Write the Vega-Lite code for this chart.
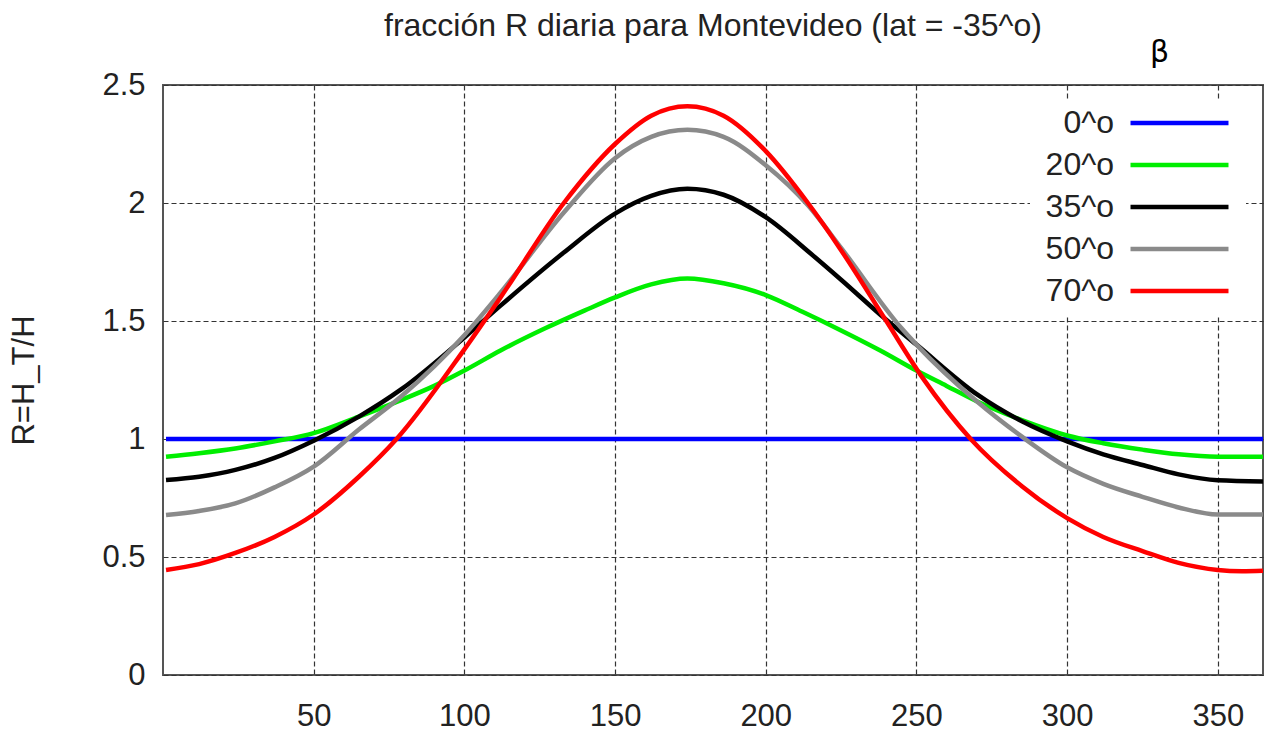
{
  "$schema": "https://vega.github.io/schema/vega-lite/v6.json",
  "width": 1100,
  "height": 590,
  "autosize": {"type": "none"},
  "padding": {"left": 163, "top": 85, "right": 1, "bottom": 56},
  "background": "white",
  "title": {
    "text": "fracción R diaria para Montevideo (lat = -35^o)",
    "frame": "group",
    "anchor": "middle",
    "offset": -31,
    "baseline": "alphabetic",
    "font": "Liberation Sans",
    "fontSize": 32,
    "fontWeight": "normal",
    "color": "#222"
  },
  "config": {
    "view": {"stroke": "#555", "strokeWidth": 2},
    "axis": {
      "labelFont": "Liberation Sans",
      "labelColor": "#222",
      "titleFont": "Liberation Sans",
      "titleColor": "#222",
      "titleFontWeight": "normal"
    }
  },
  "data": {
    "values": [
      {"d": 1, "R": 1.0, "beta": "0^o"},
      {"d": 365, "R": 1.0, "beta": "0^o"},

      {"d": 1, "R": 0.925, "beta": "20^o"},
      {"d": 12, "R": 0.94, "beta": "20^o"},
      {"d": 24, "R": 0.96, "beta": "20^o"},
      {"d": 37, "R": 0.99, "beta": "20^o"},
      {"d": 50, "R": 1.025, "beta": "20^o"},
      {"d": 65, "R": 1.095, "beta": "20^o"},
      {"d": 79, "R": 1.165, "beta": "20^o"},
      {"d": 90, "R": 1.225, "beta": "20^o"},
      {"d": 100, "R": 1.29, "beta": "20^o"},
      {"d": 112, "R": 1.375, "beta": "20^o"},
      {"d": 127, "R": 1.47, "beta": "20^o"},
      {"d": 140, "R": 1.545, "beta": "20^o"},
      {"d": 150, "R": 1.6, "beta": "20^o"},
      {"d": 162, "R": 1.655, "beta": "20^o"},
      {"d": 174, "R": 1.68, "beta": "20^o"},
      {"d": 186, "R": 1.66, "beta": "20^o"},
      {"d": 200, "R": 1.61, "beta": "20^o"},
      {"d": 212, "R": 1.54, "beta": "20^o"},
      {"d": 225, "R": 1.46, "beta": "20^o"},
      {"d": 238, "R": 1.375, "beta": "20^o"},
      {"d": 250, "R": 1.29, "beta": "20^o"},
      {"d": 260, "R": 1.225, "beta": "20^o"},
      {"d": 270, "R": 1.16, "beta": "20^o"},
      {"d": 285, "R": 1.08, "beta": "20^o"},
      {"d": 300, "R": 1.015, "beta": "20^o"},
      {"d": 312, "R": 0.982, "beta": "20^o"},
      {"d": 325, "R": 0.955, "beta": "20^o"},
      {"d": 337, "R": 0.935, "beta": "20^o"},
      {"d": 350, "R": 0.925, "beta": "20^o"},
      {"d": 365, "R": 0.925, "beta": "20^o"},

      {"d": 1, "R": 0.826, "beta": "35^o"},
      {"d": 12, "R": 0.84, "beta": "35^o"},
      {"d": 24, "R": 0.869, "beta": "35^o"},
      {"d": 37, "R": 0.92, "beta": "35^o"},
      {"d": 50, "R": 0.993, "beta": "35^o"},
      {"d": 65, "R": 1.095, "beta": "35^o"},
      {"d": 79, "R": 1.21, "beta": "35^o"},
      {"d": 100, "R": 1.43, "beta": "35^o"},
      {"d": 112, "R": 1.565, "beta": "35^o"},
      {"d": 133, "R": 1.79, "beta": "35^o"},
      {"d": 150, "R": 1.955, "beta": "35^o"},
      {"d": 162, "R": 2.03, "beta": "35^o"},
      {"d": 174, "R": 2.06, "beta": "35^o"},
      {"d": 186, "R": 2.035, "beta": "35^o"},
      {"d": 200, "R": 1.94, "beta": "35^o"},
      {"d": 215, "R": 1.785, "beta": "35^o"},
      {"d": 225, "R": 1.675, "beta": "35^o"},
      {"d": 240, "R": 1.505, "beta": "35^o"},
      {"d": 250, "R": 1.4, "beta": "35^o"},
      {"d": 270, "R": 1.19, "beta": "35^o"},
      {"d": 285, "R": 1.075, "beta": "35^o"},
      {"d": 300, "R": 0.99, "beta": "35^o"},
      {"d": 312, "R": 0.935, "beta": "35^o"},
      {"d": 325, "R": 0.89, "beta": "35^o"},
      {"d": 337, "R": 0.85, "beta": "35^o"},
      {"d": 350, "R": 0.825, "beta": "35^o"},
      {"d": 365, "R": 0.82, "beta": "35^o"},

      {"d": 1, "R": 0.678, "beta": "50^o"},
      {"d": 12, "R": 0.695, "beta": "50^o"},
      {"d": 24, "R": 0.727, "beta": "50^o"},
      {"d": 37, "R": 0.795, "beta": "50^o"},
      {"d": 50, "R": 0.883, "beta": "50^o"},
      {"d": 65, "R": 1.04, "beta": "50^o"},
      {"d": 79, "R": 1.18, "beta": "50^o"},
      {"d": 100, "R": 1.44, "beta": "50^o"},
      {"d": 112, "R": 1.62, "beta": "50^o"},
      {"d": 133, "R": 1.96, "beta": "50^o"},
      {"d": 150, "R": 2.19, "beta": "50^o"},
      {"d": 162, "R": 2.28, "beta": "50^o"},
      {"d": 174, "R": 2.31, "beta": "50^o"},
      {"d": 186, "R": 2.28, "beta": "50^o"},
      {"d": 200, "R": 2.16, "beta": "50^o"},
      {"d": 214, "R": 1.99, "beta": "50^o"},
      {"d": 225, "R": 1.81, "beta": "50^o"},
      {"d": 245, "R": 1.47, "beta": "50^o"},
      {"d": 250, "R": 1.4, "beta": "50^o"},
      {"d": 270, "R": 1.16, "beta": "50^o"},
      {"d": 285, "R": 1.01, "beta": "50^o"},
      {"d": 300, "R": 0.88, "beta": "50^o"},
      {"d": 312, "R": 0.81, "beta": "50^o"},
      {"d": 325, "R": 0.755, "beta": "50^o"},
      {"d": 337, "R": 0.71, "beta": "50^o"},
      {"d": 350, "R": 0.68, "beta": "50^o"},
      {"d": 365, "R": 0.68, "beta": "50^o"},

      {"d": 1, "R": 0.445, "beta": "70^o"},
      {"d": 12, "R": 0.47, "beta": "70^o"},
      {"d": 24, "R": 0.517, "beta": "70^o"},
      {"d": 37, "R": 0.585, "beta": "70^o"},
      {"d": 50, "R": 0.68, "beta": "70^o"},
      {"d": 65, "R": 0.84, "beta": "70^o"},
      {"d": 77.5, "R": 1.0, "beta": "70^o"},
      {"d": 100, "R": 1.38, "beta": "70^o"},
      {"d": 112, "R": 1.6, "beta": "70^o"},
      {"d": 133, "R": 2.0, "beta": "70^o"},
      {"d": 150, "R": 2.25, "beta": "70^o"},
      {"d": 162, "R": 2.37, "beta": "70^o"},
      {"d": 174, "R": 2.41, "beta": "70^o"},
      {"d": 186, "R": 2.37, "beta": "70^o"},
      {"d": 200, "R": 2.22, "beta": "70^o"},
      {"d": 214, "R": 2.0, "beta": "70^o"},
      {"d": 225, "R": 1.8, "beta": "70^o"},
      {"d": 240, "R": 1.5, "beta": "70^o"},
      {"d": 252, "R": 1.26, "beta": "70^o"},
      {"d": 268, "R": 1.0, "beta": "70^o"},
      {"d": 285, "R": 0.8, "beta": "70^o"},
      {"d": 300, "R": 0.665, "beta": "70^o"},
      {"d": 312, "R": 0.585, "beta": "70^o"},
      {"d": 325, "R": 0.525, "beta": "70^o"},
      {"d": 337, "R": 0.475, "beta": "70^o"},
      {"d": 350, "R": 0.445, "beta": "70^o"},
      {"d": 358, "R": 0.44, "beta": "70^o"},
      {"d": 365, "R": 0.442, "beta": "70^o"}
    ]
  },
  "resolve": {"axis": {"x": "independent"}},
  "layer": [
    {
      "transform": [{"filter": {"field": "beta", "oneOf": ["0^o", "20^o", "35^o"]}}],
      "mark": {"type": "line", "interpolate": "monotone", "strokeWidth": 4.5},
      "encoding": {
        "x": {
          "field": "d", "type": "quantitative",
          "scale": {"domain": [0, 365], "nice": false, "zero": false},
          "axis": {
            "orient": "bottom", "title": null, "values": [50, 100, 150, 200, 250, 300, 350],
            "domain": false, "ticks": false, "labelFontSize": 31, "labelPadding": 26,
            "grid": true, "gridColor": "#333", "gridDash": [5, 3], "gridWidth": 1.2
          }
        },
        "y": {
          "field": "R", "type": "quantitative",
          "scale": {"domain": [0, 2.5], "nice": false},
          "axis": {
            "title": "R=H_T/H", "titleFontSize": 31, "titlePadding": 61,
            "values": [0, 0.5, 1, 1.5, 2, 2.5], "format": "~g",
            "domain": false, "ticks": false, "labelFontSize": 31, "labelPadding": 18,
            "grid": true, "gridColor": "#333", "gridDash": [5, 3], "gridWidth": 1.2
          }
        },
        "color": {
          "field": "beta", "type": "nominal",
          "scale": {
            "domain": ["0^o", "20^o", "35^o", "50^o", "70^o"],
            "range": ["#0000ff", "#00ee00", "#000000", "#8a8a8a", "#ff0000"]
          },
          "legend": {
            "orient": "none", "legendX": 867, "legendY": 14,
            "title": null,
            "labelAlign": "right", "labelFont": "Liberation Sans", "labelFontSize": 32,
            "labelColor": "#222", "labelOffset": -81.5,
            "symbolType": "M-5,0H5", "symbolSize": 384, "symbolStrokeWidth": 4.5,
            "symbolOffset": 125.5,
            "rowPadding": 10, "fillColor": "white", "padding": 8
          }
        }
      }
    },
    {
      "transform": [{"filter": {"field": "beta", "oneOf": ["50^o", "70^o"]}}],
      "mark": {"type": "line", "interpolate": "monotone", "strokeWidth": 4.5},
      "encoding": {
        "x": {
          "field": "d", "type": "quantitative",
          "axis": {
            "orient": "top", "title": "β", "labels": false, "ticks": false,
            "domain": false, "grid": false,
            "titleFont": "DejaVu Sans", "titleFontSize": 30, "titleColor": "#000",
            "titleX": 996, "titleY": -33, "titleAngle": 0, "titleAlign": "center", "titleBaseline": "middle"
          }
        },
        "y": {"field": "R", "type": "quantitative"},
        "color": {"field": "beta", "type": "nominal"}
      }
    }
  ]
}
